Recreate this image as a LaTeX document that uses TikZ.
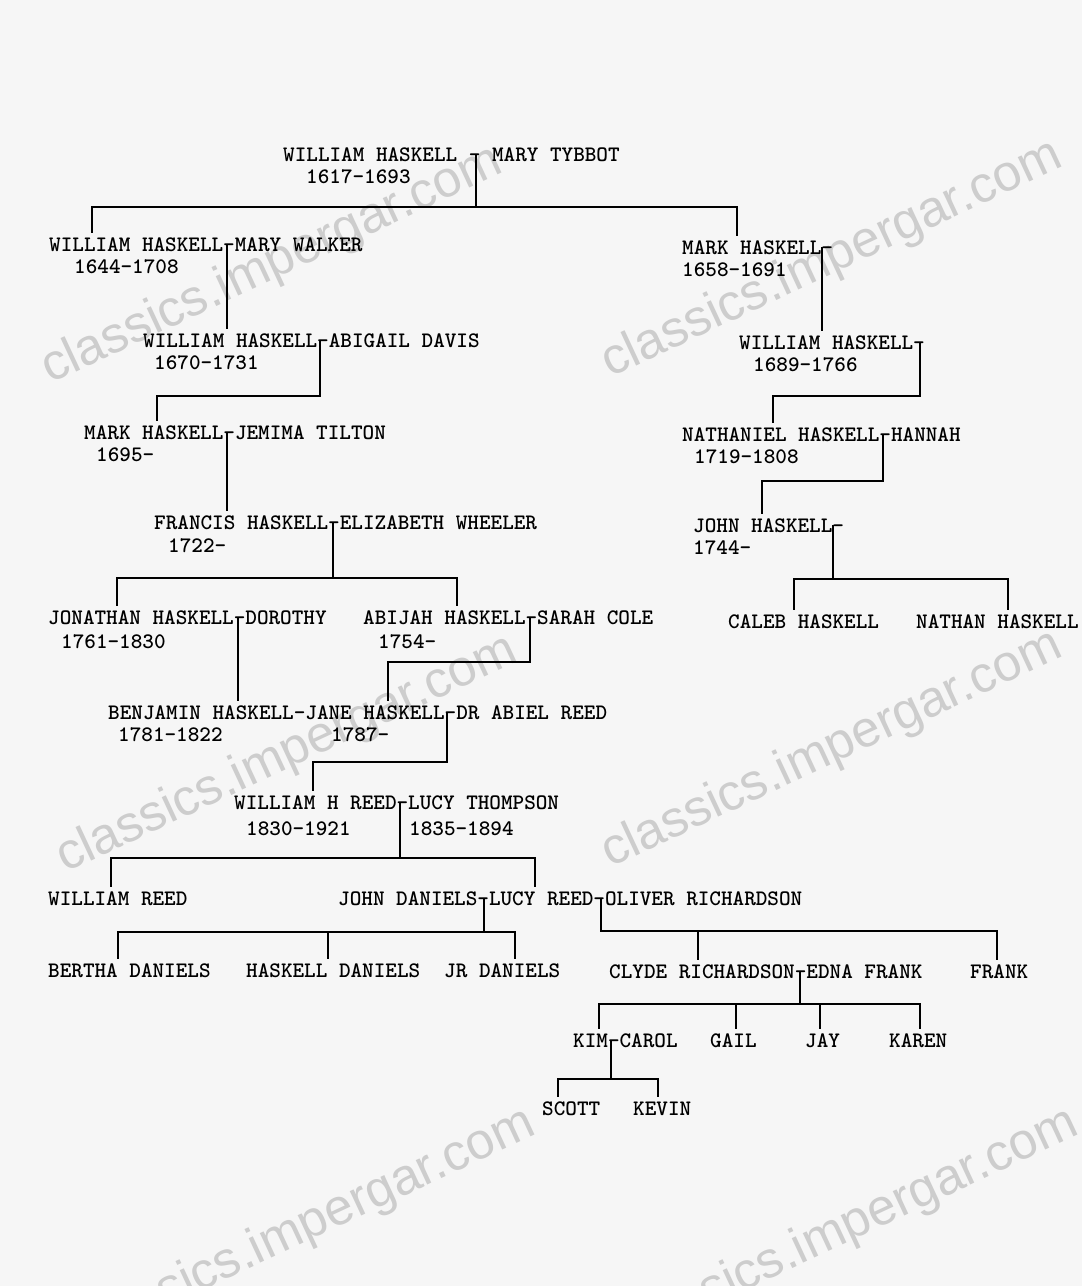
\documentclass[tikz,border=0pt]{standalone}
\usepackage{fontspec}
\newfontfamily\wmfont{Liberation Sans}
\usepackage{xcolor}
\usepackage{tikz}
\definecolor{paper}{RGB}{246,246,246}
\definecolor{mark}{RGB}{205,205,205}

\begin{document}
\begin{tikzpicture}[x=1pt, y=-1pt, line width=2.4pt,
    every node/.style={anchor=base west, inner xsep=0pt, inner ysep=3pt, font=\fontsize{22.1}{26}\selectfont\ttfamily\bfseries},
    wm/.style={anchor=center, rotate=25, text=mark, font=\fontsize{51}{54}\selectfont\wmfont}]
        \useasboundingbox (0, 0) rectangle (1082, 1286);
        \fill[paper] (0, 0) rectangle (1082, 1286);
        \clip (0, 0) rectangle (1082, 1286);

        \node[wm](wm1) at (272, 266) {classics.impergar.com};
        \node[wm](wm2) at (832, 260) {classics.impergar.com};
        \node[wm](wm3) at (287, 755) {classics.impergar.com};
        \node[wm](wm4) at (832, 750) {classics.impergar.com};
        \node[wm](wm5) at (305, 1228) {classics.impergar.com};
        \node[wm](wm6) at (848, 1228) {classics.impergar.com};

        \node(WHMT) at (282, 161) {WILLIAM HASKELL - MARY TYBBOT};
        \node(WHMTd) at (305, 183) {1617-1693};

        \node(WHMW) at (48, 251) {WILLIAM HASKELL-MARY WALKER};
        \node(WHMWd) at (73, 273) {1644-1708};
        \node(MH) at (681, 254) {MARK HASKELL-};
        \node(MHd) at (681, 276) {1658-1691};

        \node(WHAD) at (142, 347) {WILLIAM HASKELL-ABIGAIL DAVIS};
        \node(WHADd) at (153, 369) {1670-1731};
        \node(WH) at (738, 349) {WILLIAM HASKELL-};
        \node(WHd) at (752, 371) {1689-1766};

        \node(MHJT) at (83, 439) {MARK HASKELL-JEMIMA TILTON};
        \node(MHJTd) at (95, 461) {1695-};
        \node(NHH) at (681, 441) {NATHANIEL HASKELL-HANNAH};
        \node(NHHd) at (693, 463) {1719-1808};

        \node(FHEW) at (153, 529) {FRANCIS HASKELL-ELIZABETH WHEELER};
        \node(FHEWd) at (167, 552) {1722-};
        \node(JH) at (692, 532) {JOHN HASKELL-};
        \node(JHd) at (692, 554) {1744-};

        \node(JHD) at (47, 624) {JONATHAN HASKELL-DOROTHY};
        \node(JHDd) at (60, 648) {1761-1830};
        \node(AHSC) at (362, 624) {ABIJAH HASKELL-SARAH COLE};
        \node(AHSCd) at (377, 648) {1754-};
        \node(CH) at (727, 628) {CALEB HASKELL};
        \node(NH) at (915, 628) {NATHAN HASKELL};

        \node(BHJH) at (107, 719) {BENJAMIN HASKELL-JANE HASKELL-DR ABIEL REED};
        \node(BHJHd) at (117, 741) {1781-1822};
        \node(JHARd) at (330, 741) {1787-};

        \node(WRLT) at (233, 809) {WILLIAM H REED-LUCY THOMPSON};
        \node(WRd) at (245, 835) {1830-1921};
        \node(LTd) at (408, 835) {1835-1894};

        \node(WR) at (47, 905) {WILLIAM REED};
        \node(JDLR) at (337, 905) {JOHN DANIELS-LUCY REED-OLIVER RICHARDSON};

        \node(BD) at (47, 977) {BERTHA DANIELS};
        \node(HD) at (245, 977) {HASKELL DANIELS};
        \node(JRD) at (443, 977) {JR DANIELS};
        \node(CREF) at (608, 978) {CLYDE RICHARDSON-EDNA FRANK};
        \node(FR) at (969, 978) {FRANK};

        \node(KC) at (572, 1047) {KIM-CAROL};
        \node(GA) at (709, 1047) {GAIL};
        \node(JA) at (804, 1047) {JAY};
        \node(KA) at (888, 1047) {KAREN};

        \node(SC) at (541, 1115) {SCOTT};
        \node(KE) at (632, 1115) {KEVIN};

        \draw ([xshift=194]WHMT.west) -- ++(0, 53) coordinate (b1) -| ([xshift=44]WHMW.north west);
        \draw (b1) -| ([xshift=56]MH.north west);
        \draw ([xshift=179]WHMW.west) -- ([xshift=85]WHAD.north west);
        \draw ([xshift=141]MH.west) -- ([xshift=84]WH.north west);
        \draw ([xshift=178]WHAD.west) -- ++(0, 56) -| ([xshift=74]MHJT.north west);
        \draw ([xshift=182]WH.west) -- ++(0, 54) -| ([xshift=92]NHH.north west);
        \draw ([xshift=144]MHJT.west) -- ([xshift=74]FHEW.north west);
        \draw ([xshift=202]NHH.west) -- ++(0, 47) -| ([xshift=70]JH.north west);
        \draw ([xshift=141]JH.west) -- ++(0, 54) coordinate (b8) -| ([xshift=67]CH.north west);
        \draw (b8) -| ([xshift=93]NH.north west);
        \draw ([xshift=180]FHEW.west) -- ++(0, 56) coordinate (b9) -| ([xshift=70]JHD.north west);
        \draw (b9) -| ([xshift=95]AHSC.north west);
        \draw ([xshift=191]JHD.west) -- ([xshift=131]BHJH.north west);
        \draw ([xshift=168]AHSC.west) -- ++(0, 45) -| ([xshift=281]BHJH.north west);
        \draw ([xshift=340]BHJH.west) -- ++(0, 50) -| ([xshift=80]WRLT.north west);
        \draw ([xshift=167]WRLT.west) -- ++(0, 56) coordinate (b13) -| ([xshift=64]WR.north west);
        \draw (b13) -| ([xshift=198]JDLR.north west);
        \draw ([xshift=147]JDLR.west) -- ++(0, 34) coordinate (b14) -| ([xshift=71]BD.north west);
        \draw (b14) -| ([xshift=83]HD.north west);
        \draw (b14) -| ([xshift=72]JRD.north west);
        \draw ([xshift=264]JDLR.west) -- ++(0, 33) coordinate (b15) -| ([xshift=90]CREF.north west);
        \draw (b15) -| ([xshift=28]FR.north west);
        \draw ([xshift=192]CREF.west) -- ++(0, 33) coordinate (b16) -| ([xshift=27]KC.north west);
        \draw (b16) -| ([xshift=27]GA.north west);
        \draw (b16) -| ([xshift=16]JA.north west);
        \draw (b16) -| ([xshift=32]KA.north west);
        \draw ([xshift=39]KC.west) -- ++(0, 39) coordinate (b17) -| ([xshift=17]SC.north west);
        \draw (b17) -| ([xshift=26]KE.north west);
      \end{tikzpicture}
\end{document}
